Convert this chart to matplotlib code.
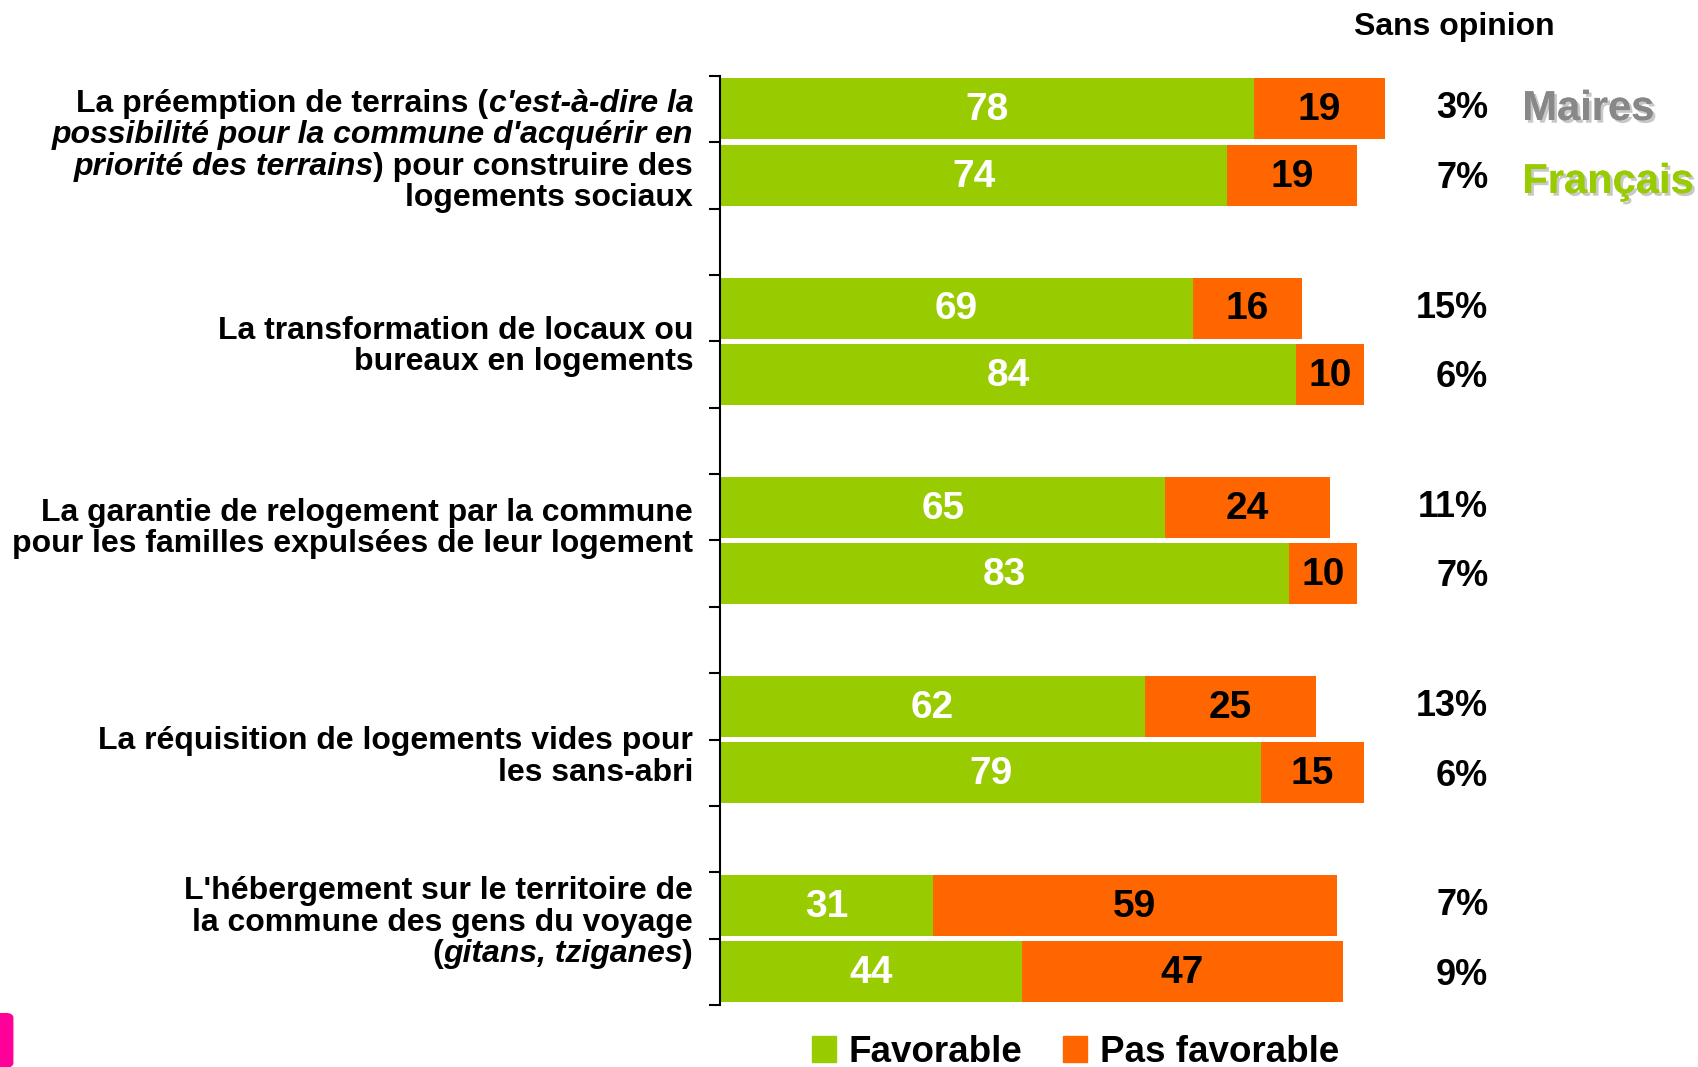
import numpy as np
import matplotlib
import matplotlib.pyplot as plt
import matplotlib.transforms as mtransforms
import matplotlib.patheffects as pe
from matplotlib.patches import Patch, FancyBboxPatch

plt.rcParams['font.family'] = ['Liberation Sans', 'DejaVu Sans']
plt.rcParams['font.weight'] = 'bold'

GREEN = '#99CC00'
ORANGE = '#FF6600'

# each label: list of lines, each line a list of (text, italic) runs
labels = [
    [[("La préemption de terrains (", False), ("c'est-à-dire la", True)],
     [("possibilité pour la commune d'acquérir en", True)],
     [("priorité des terrains", True), (") pour construire des", False)],
     [("logements sociaux", False)]],
    [[("La transformation de locaux ou", False)],
     [("bureaux en logements", False)]],
    [[("La garantie de relogement par la commune", False)],
     [("pour les familles expulsées de leur logement", False)]],
    [[("La réquisition de logements vides pour", False)],
     [("les sans-abri", False)]],
    [[("L'hébergement sur le territoire de", False)],
     [("la commune des gens du voyage", False)],
     [("(", False), ("gitans, tziganes", True), (")", False)]],
]

maires_fav = [78, 69, 65, 62, 31]
maires_pas = [19, 16, 24, 25, 59]
maires_sans = ['3%', '15%', '11%', '13%', '7%']
francais_fav = [74, 84, 83, 79, 44]
francais_pas = [19, 10, 10, 15, 47]
francais_sans = ['7%', '6%', '7%', '6%', '9%']

# small vertical nudges of the question labels (in slot units)
label_nudge = [0.13, 0.08, -0.18, 0.26, -0.24]

fig = plt.figure(figsize=(16.99, 10.67), dpi=100)
ax = fig.add_axes([0.424, 0.058, 0.403, 0.871])

n = len(labels)
y_m = np.arange(n) * 3 + 0.5
y_f = y_m + 1
h = 0.92

for y, fav, pas in [(y_m, maires_fav, maires_pas), (y_f, francais_fav, francais_pas)]:
    fav = np.array(fav)
    pas = np.array(pas)
    ax.barh(y, fav, height=h, color=GREEN)
    ax.barh(y, pas, left=fav, height=h, color=ORANGE)
    for yy, a, b in zip(y, fav, pas):
        ax.text(a / 2, yy + 0.02, str(a), ha='center', va='center', color='white',
                fontsize=28, fontweight='bold')
        ax.text(a + b / 2, yy + 0.02, str(b), ha='center', va='center', color='black',
                fontsize=28, fontweight='bold')

ax.set_xlim(0, 100)
ax.set_ylim(3 * n - 1, 0)
ax.set_yticks(np.arange(3 * n))
ax.set_yticklabels([])
ax.set_xticks([])
for s in ['top', 'right', 'bottom']:
    ax.spines[s].set_visible(False)
ax.spines['left'].set_linewidth(1.5)
ax.tick_params(axis='y', direction='out', length=8, width=1.5)

blend = mtransforms.blended_transform_factory(fig.transFigure, ax.transData)

# sans opinion column
fig.text(0.856, 0.975, 'Sans opinion', ha='center', va='center', fontsize=23)
for yy, s in zip(y_m, maires_sans):
    ax.text(0.876, yy, s, transform=blend, ha='right', va='center', fontsize=26)
for yy, s in zip(y_f, francais_sans):
    ax.text(0.876, yy + 0.05, s, transform=blend, ha='right', va='center', fontsize=26)

shadow = [pe.withSimplePatchShadow(offset=(2, -2), shadow_rgbFace='#bbbbbb', alpha=0.8), pe.Normal()]
ax.text(0.896, y_m[0], 'Maires', transform=blend, ha='left', va='center',
        fontsize=30, color='#888888', path_effects=shadow)
ax.text(0.896, y_f[0] + 0.1, 'Français', transform=blend, ha='left', va='center',
        fontsize=30, color=GREEN, path_effects=shadow)

# question labels, right aligned, with italic runs
renderer = fig.canvas.get_renderer()
x_right = 0.408
line_h = 0.474
for i, lines in enumerate(labels):
    yc = 3 * i + 1 + label_nudge[i]
    y0 = yc - line_h * (len(lines) - 1) / 2
    for j, runs in enumerate(lines):
        x = x_right
        for txt, it in reversed(runs):
            t = ax.text(x, y0 + j * line_h, txt, transform=blend, ha='right', va='center',
                        fontsize=23, style='italic' if it else 'normal')
            bb = t.get_window_extent(renderer)
            x = bb.x0 / fig.bbox.width

# legend
handles = [Patch(color=GREEN, label='Favorable'), Patch(color=ORANGE, label='Pas favorable')]
fig.legend(handles=handles, loc='center', bbox_to_anchor=(0.633, 0.014), ncol=2,
           frameon=False, fontsize=26.5, handlelength=0.65, handleheight=0.7,
           handletextpad=0.35, columnspacing=1.1)

fig.add_artist(FancyBboxPatch((-0.01, 0.0), 0.0175, 0.05, boxstyle='round,pad=0,rounding_size=0.004',
                              transform=fig.transFigure, color='#FF0099'))

fig.savefig('out.png', dpi=100)
